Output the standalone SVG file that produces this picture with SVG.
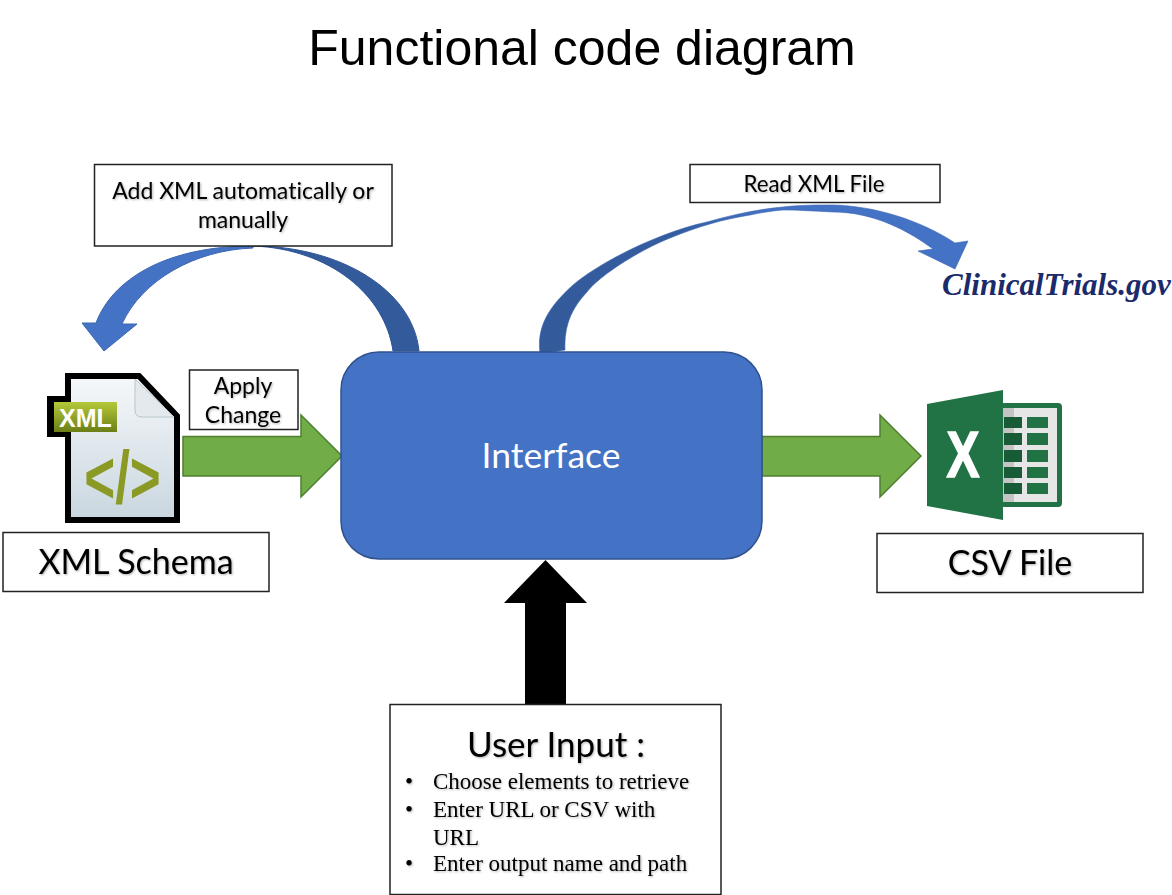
<svg xmlns="http://www.w3.org/2000/svg" width="1172" height="895" viewBox="0 0 1172 895">
<style>
text{font-variant-ligatures:none}
.box{fill:#fff;stroke:#222;stroke-width:1.5}
.lbl{font-family:"Lato","Liberation Sans",sans-serif;fill:#000;text-anchor:middle;filter:url(#sh)}
.s{font-size:23px}
.l{font-size:34px}
.ser{font-family:"Liberation Serif",serif;font-size:23px;fill:#000;filter:url(#sh)}
.green{fill:#70ad47;stroke:#507e32;stroke-width:1.5}
.cell{fill:#217346}
.cell2{fill:#185c37}
</style>
<defs>
<filter id="sh" x="-10%" y="-20%" width="120%" height="150%"><feDropShadow dx="1" dy="1" stdDeviation="1" flood-color="#000" flood-opacity="0.3"/></filter>
<linearGradient id="rg" gradientUnits="userSpaceOnUse" x1="540" y1="354" x2="800" y2="205"><stop offset="0" stop-color="#335a9b"/><stop offset="0.6" stop-color="#345d9f"/><stop offset="0.9" stop-color="#4472c4"/></linearGradient>
<linearGradient id="doc" x1="0" y1="0" x2="0" y2="1"><stop offset="0" stop-color="#f6f8fa"/><stop offset="1" stop-color="#c9d6df"/></linearGradient>
<linearGradient id="tag" x1="0" y1="0" x2="0" y2="1"><stop offset="0" stop-color="#b5c93a"/><stop offset="1" stop-color="#6b7f16"/></linearGradient>
</defs>
<rect width="1172" height="895" fill="#fff"/>
<text x="582" y="65" font-family="Liberation Sans, sans-serif" font-size="50" text-anchor="middle" fill="#000">Functional code diagram</text>

<g id="connectors">
<path d="M253,246 C165,246 112,280 96,323 L82,323 L104,351 L137,324 L122,324 C142,280 195,250 253,248 Z" fill="#4472c4" stroke="#3d67b2" stroke-width="1"/>
<path d="M419,351 C413,290 340,246 253,246 C330,249 385,295 393,351 Z" fill="#335a9b" stroke="#2f5597" stroke-width="1"/>
<path d="M540,354 C537,330 545,310 573,285 C600,262 660,232 707,222 C735,214 760,209 783,207 C800,205 820,205 833,205 C875,206 920,220 955,243 L968,241 L955,269 L918,251 L933,249 C910,232 875,212 833,212 C815,211 795,210 783,210 C770,211 760,213 750,215 C720,220 700,226 670,238 C640,250 600,275 587,292 C572,308 564,325 565,350 Z" fill="url(#rg)" stroke="#3d67b2" stroke-width="0.6"/>
<polygon class="green" points="183,436.500 301,436.500 301,415 342,456 301,497 301,476 183,476"/>
<polygon class="green" points="762,436.500 880,436.500 880,415 921,456 880,497 880,476 762,476"/>
<polygon points="525,705 525,603 504,603 545.500,560 587,603 566,603 566,705" fill="#000"/>
</g>

<g id="interface">
<rect x="341" y="352" width="421" height="207" rx="38" fill="#4472c4" stroke="#2f528f" stroke-width="1.500"/>
<text x="551" y="468" font-family="Lato, Liberation Sans, sans-serif" font-size="35.500" fill="#fff" text-anchor="middle">Interface</text>
</g>

<g id="add-xml">
<rect class="box" x="94.500" y="164.500" width="297.500" height="81.500"/>
<text class="lbl s" x="243" y="199">Add XML automatically or</text>
<text class="lbl s" x="243" y="228">manually</text>
</g>

<g id="read-xml">
<rect class="box" x="690" y="164.500" width="250" height="38"/>
<text class="lbl s" x="814" y="192" textLength="141" lengthAdjust="spacingAndGlyphs">Read XML File</text>
</g>

<g id="clinicaltrials">
<text x="942" y="295" font-family="Liberation Serif, serif" font-size="31" font-weight="bold" font-style="italic" fill="#1b2a6b">ClinicalTrials.gov</text>
</g>

<g id="xml-icon">
<path d="M68,376 H139 L177,416 V520 H68 Z" fill="url(#doc)" stroke="#000" stroke-width="6"/>
<path d="M135,379 L174,417 H142 Q135,417 135,410 Z" fill="#e3e9ed" stroke="#b9c5cc" stroke-width="1"/>
<rect x="47" y="396" width="22" height="41" fill="#000"/>
<rect x="54" y="402" width="63" height="30" fill="url(#tag)"/>
<text x="85.500" y="427" font-family="Liberation Sans, sans-serif" font-size="25" font-weight="bold" fill="#fff" text-anchor="middle">XML</text>
<text transform="translate(122.500,503) scale(1,1.4)" font-family="Liberation Sans, sans-serif" font-size="53" font-weight="bold" fill="#8a9a25" text-anchor="middle">&lt;/&gt;</text>
</g>

<g id="apply-change">
<rect class="box" x="189.500" y="370" width="108.500" height="59.500"/>
<text class="lbl s" x="243" y="394">Apply</text>
<text class="lbl s" x="243" y="423">Change</text>
</g>

<g id="xml-schema">
<rect class="box" x="3" y="532.500" width="266" height="59"/>
<text class="lbl l" x="136" y="574">XML Schema</text>
</g>

<g id="excel-icon">
<rect x="1000" y="403" width="62" height="104" rx="4" fill="#217346"/>
<rect x="1003" y="408" width="54" height="94" fill="#e6e6e6"/>
<rect x="1003" y="408" width="11" height="94" fill="#c4c4c4"/>
<g class="cell2">
<rect x="1004" y="417" width="18" height="11"/><rect x="1004" y="433" width="18" height="12"/><rect x="1004" y="450" width="18" height="12"/><rect x="1004" y="467" width="18" height="11"/><rect x="1004" y="483" width="18" height="11"/>
</g>
<g class="cell">
<rect x="1027" y="417" width="21" height="11"/><rect x="1027" y="433" width="21" height="12"/><rect x="1027" y="450" width="21" height="12"/><rect x="1027" y="467" width="21" height="11"/><rect x="1027" y="483" width="21" height="11"/>
</g>
<polygon points="927,404 1003,390 1003,520 927,506" fill="#217346"/>
<text x="963" y="477" font-family="Liberation Sans, sans-serif" font-size="64" font-weight="bold" fill="#fff" stroke="#fff" stroke-width="1.500" text-anchor="middle" textLength="33" lengthAdjust="spacingAndGlyphs">X</text>
</g>

<g id="csv-file">
<rect class="box" x="877" y="533.500" width="266" height="59"/>
<text class="lbl l" x="1010" y="575">CSV File</text>
</g>

<g id="user-input">
<rect class="box" x="390" y="704.500" width="331" height="190"/>
<text class="lbl" font-size="35" x="556" y="757">User Input :</text>
<text class="ser" x="405" y="789">•</text>
<text class="ser" x="433" y="789">Choose elements to retrieve</text>
<text class="ser" x="405" y="817">•</text>
<text class="ser" x="433" y="817">Enter URL or CSV with</text>
<text class="ser" x="433" y="845">URL</text>
<text class="ser" x="405" y="871">•</text>
<text class="ser" x="433" y="871">Enter output name and path</text>
</g>
</svg>
